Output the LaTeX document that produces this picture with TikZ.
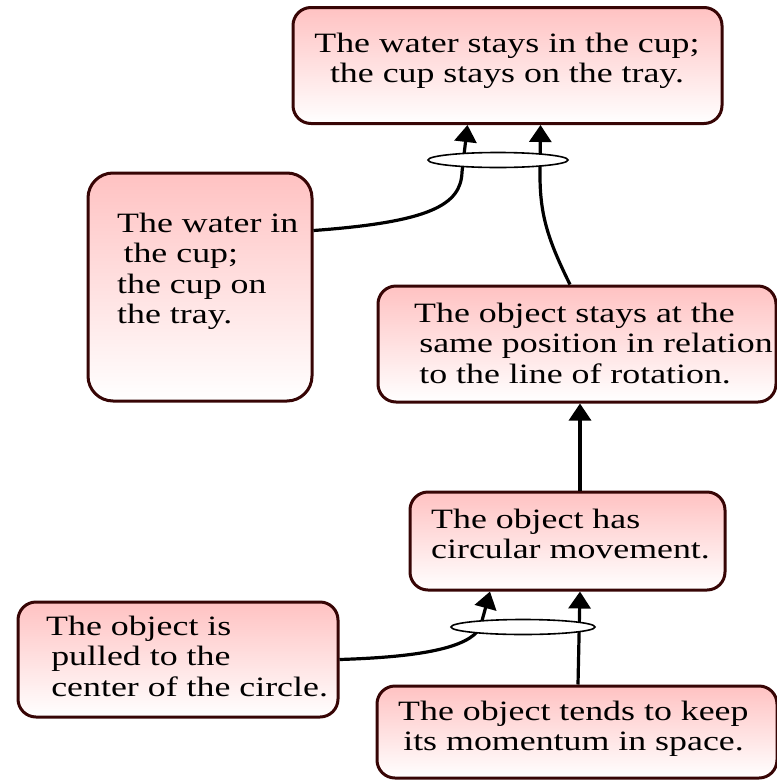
\documentclass[tikz,border=0pt]{standalone}
\usepackage{fontspec}
\setmainfont{Liberation Serif}
\usepackage{graphicx}
\usetikzlibrary{arrows.meta,calc,shapes.geometric}
\definecolor{edgecol}{RGB}{55,5,5}
\definecolor{pinktop}{RGB}{255,194,194}
\newcommand{\tx}[2][l]{\scalebox{1.28}[1]{\fontsize{28}{30.5}\selectfont\begin{tabular}{@{}#1@{}}#2\end{tabular}}}
\tikzset{
  box/.style={draw=edgecol, line width=3pt, rounded corners=18pt, top color=pinktop, bottom color=white, inner sep=0pt},
  txt/.style={inner sep=0pt, anchor=north west},
  link/.style={line width=3.2pt, -{Triangle[width=22pt,length=17pt]}},
  ring/.style={ellipse, draw, line width=1.6pt, fill=white, inner sep=0pt}
}
\begin{document}
\begin{tikzpicture}[x=1pt,y=-1pt]
\useasboundingbox (0,0) rectangle (777,780);
% boxes
\node[box, minimum width=429pt, minimum height=116pt] (top) at (507.5,65.5) {};
\node[box, minimum width=224pt, minimum height=228pt, rounded corners=25pt] (left) at (200,287) {};
\node[box, minimum width=398pt, minimum height=116pt] (mid) at (577,344) {};
\node[box, minimum width=315pt, minimum height=98pt] (circ) at (567.5,541) {};
\node[box, minimum width=320pt, minimum height=115pt] (pull) at (178,659.5) {};
\node[box, minimum width=400pt, minimum height=92pt] (mom) at (577,732) {};
% connectors
\draw[link] ($(left.north east)+(0,59)$) .. controls (430,222) and (461,205) .. (462,172) -- ($(top.south)+(-40,0)$);
\draw[link] ($(mid.north)+(-7,0)$) .. controls (548,240) and (540,215) .. (540,175) -- ($(top.south)+(33,0)$);
\draw[link] ($(circ.north)+(12.5,0)$) -- ($(mid.south)+(3,0)$);
\draw[link] (pull.east) .. controls (420,657) and (468,648) .. (480,628) -- ($(circ.south)+(-77.5,0)$);
\draw[link] ($(mom.north)+(1,0)$) -- ($(circ.south)+(12.5,0)$);
% junction rings
\node[ring, minimum width=140pt, minimum height=15pt] (r1) at (498,160) {};
\node[ring, minimum width=144pt, minimum height=15pt] (r2) at (523,627) {};
% texts
\node[inner sep=0pt, anchor=north] (ttop) at (507,30.6) {\tx[c]{The water stays in the cup;\\ the cup stays on the tray.}};
\node[txt] (tleft) at (117,210.6) {\tx{The water in\\ \hspace{5pt}the cup;\\ the cup on\\ the tray.}};
\node[txt] (tmid) at (414,300.6) {\tx{The object stays at the\\ \hspace{4pt}same position in relation\\ \hspace{4pt}to the line of rotation.}};
\node[txt] (tcirc) at (431,506.6) {\tx{The object has\\ circular movement.}};
\node[txt] (tpull) at (46,613.6) {\tx{The object is\\ \hspace{4pt}pulled to the\\ \hspace{4pt}center of the circle.}};
\node[txt] (tmom) at (398,698.6) {\tx{The object tends to keep\\ \hspace{4pt}its momentum in space.}};
\end{tikzpicture}
\end{document}
